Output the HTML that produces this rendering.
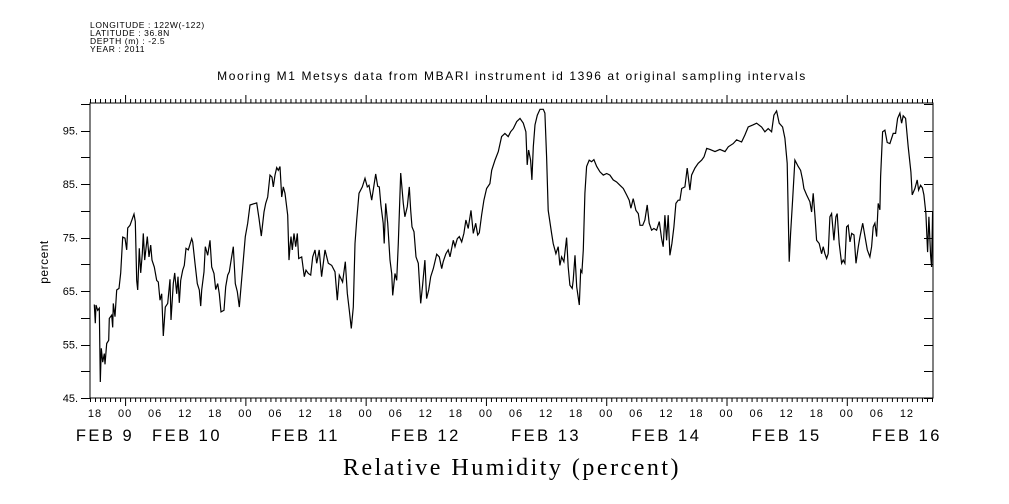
<!DOCTYPE html>
<html><head><meta charset="utf-8"><style>
html,body{margin:0;padding:0;background:#fff;}
svg{display:block;font-family:"Liberation Sans",sans-serif;}
</style></head><body>
<svg id="chart" width="1009" height="504" viewBox="0 0 1009 504" xmlns="http://www.w3.org/2000/svg">
<g font-size="8.5" letter-spacing="0.6" fill="#000">
<text x="90" y="28">LONGITUDE : 122W(-122)</text>
<text x="90" y="36">LATITUDE : 36.8N</text>
<text x="90" y="44">DEPTH (m) : -2.5</text>
<text x="90" y="52">YEAR : 2011</text>
</g>
<text x="512" y="80" text-anchor="middle" font-size="12" letter-spacing="1.6">Mooring M1 Metsys data from MBARI instrument id 1396 at original sampling intervals</text>
<text x="0" y="0" transform="translate(48,262) rotate(-90)" text-anchor="middle" font-size="12" letter-spacing="0.5">percent</text>
<text x="512" y="475" text-anchor="middle" font-size="24" letter-spacing="2.5" font-family="'Liberation Serif',serif">Relative Humidity (percent)</text>
<g id="axes"></g>
<g id="series"></g>
</svg>
<script>
const times=[0.86,1.06,1.2,1.54,1.86,2.05,2.25,2.53,2.85,2.99,3.33,3.73,3.85,4.33,4.53,4.65,4.99,5.33,5.79,6.12,6.52,6.98,7.32,7.52,7.98,8.78,9.04,9.32,9.52,9.84,10.11,10.43,10.63,10.91,11.43,11.77,12.11,12.37,12.83,13.31,13.63,13.97,14.30,14.62,15.02,15.50,15.96,16.16,16.62,16.90,17.30,17.56,17.82,18.09,18.49,18.81,19.15,19.61,20.29,20.49,20.95,21.41,21.81,22.08,22.28,22.74,23.00,23.48,23.94,24.28,24.74,25.08,25.48,25.80,26.13,26.73,27.07,27.47,27.79,28.07,28.59,28.99,29.39,29.79,30.18,30.58,30.98,31.46,31.92,33.26,33.72,34.17,34.71,35.05,35.45,35.91,36.31,36.57,36.91,37.25,37.57,37.91,38.24,38.56,38.90,39.44,39.70,39.90,40.10,40.36,40.70,41.04,41.36,41.64,42.23,42.75,43.09,43.55,44.03,44.43,44.89,45.23,45.74,46.22,46.88,47.54,48.22,48.88,49.34,49.74,50.41,50.93,51.33,51.73,52.13,52.53,52.87,53.21,53.67,54.33,54.86,55.32,55.66,56.20,57.00,57.40,57.72,58.05,58.51,58.71,58.99,59.39,59.85,60.19,60.39,60.85,61.19,61.51,61.99,62.51,62.84,63.30,63.70,63.98,64.24,64.64,65.04,65.50,65.98,66.37,66.83,67.17,67.57,67.97,68.49,69.17,69.69,70.17,70.48,71.02,71.48,71.82,72.16,72.48,72.82,73.28,73.68,74.16,74.61,75.01,75.47,76.01,76.47,76.95,77.35,77.67,78.14,78.60,79.14,79.80,80.14,80.80,81.46,82.13,82.79,83.45,83.93,84.45,85.13,85.79,86.45,86.98,87.24,87.52,87.92,88.18,88.44,88.78,89.24,89.78,90.44,90.77,91.11,91.43,92.11,92.43,92.96,93.42,93.76,94.10,94.56,95.10,95.42,95.76,96.22,96.42,96.76,97.10,97.62,97.90,98.15,98.42,98.75,99.09,99.61,100.09,100.55,101.09,101.75,102.41,103.09,103.74,104.40,105.08,105.74,106.40,107.07,107.59,107.93,108.39,108.93,109.39,109.73,110.27,110.72,111.18,111.58,112.06,112.52,113.06,113.58,114.05,114.37,114.71,115.05,115.37,115.71,116.11,116.51,116.91,117.37,117.71,118.05,118.70,119.16,119.70,120.04,120.70,121.36,122.04,122.50,123.04,123.70,124.70,125.69,126.69,127.35,128.34,129.02,130.02,130.67,131.33,132.33,133.01,134.01,134.66,135.32,136.00,136.46,137.00,137.52,138.19,138.65,139.11,139.51,139.79,140.19,140.65,141.30,141.78,142.18,142.44,142.98,143.64,143.98,144.30,144.64,144.98,145.49,145.97,146.29,146.63,146.97,147.29,147.63,147.97,148.43,148.83,149.09,149.49,149.97,150.29,150.63,150.97,151.29,151.63,151.97,152.43,152.83,153.29,153.63,154.17,154.63,155.09,155.61,155.95,156.27,156.61,156.95,157.27,157.61,157.75,158.15,158.61,159.07,159.60,160.26,160.74,161.14,161.60,161.94,162.26,162.74,163.26,163.79,164.05,164.59,165.05,165.33,165.73,166.09,166.39,166.79,167.13,167.38,167.72,167.92,168.12];
const values=[62.5,59.0,62.4,61.4,61.8,48.0,54.3,51.7,53.3,51.3,55.2,55.8,59.9,60.5,58.2,62.7,60.2,65.2,65.5,68.4,75.1,74.9,72.7,76.8,77.3,79.4,78.0,67.0,65.2,73.0,68.4,72.0,75.8,70.8,75.2,71.4,73.6,70.8,69.5,67.0,66.7,63.3,64.5,56.6,62.0,62.7,67.2,59.6,66.4,68.4,64.5,67.7,62.8,67.0,68.9,69.8,73.0,72.7,74.8,74.2,70.2,66.4,65.2,62.2,65.2,68.6,73.3,71.7,74.5,69.5,68.3,65.3,66.4,64.5,61.1,61.4,65.8,68.0,68.6,70.3,73.3,66.4,64.9,62.0,66.4,70.8,75.2,77.7,81.1,81.5,78.6,75.3,79.8,81.4,82.6,86.7,86.3,84.5,86.7,88.1,87.6,88.3,82.6,84.5,83.3,79.2,70.8,73.3,75.2,72.7,75.8,73.3,75.8,71.1,71.4,67.7,68.9,68.3,68.0,71.4,72.7,70.2,72.7,67.7,72.7,70.2,69.8,68.6,63.3,68.0,66.7,70.5,64.6,61.4,58.0,62.0,73.9,78.3,83.3,84.5,86.1,84.5,84.8,82.0,86.9,84.6,84.5,81.1,77.7,73.9,81.4,77.7,70.8,68.3,64.2,68.3,67.0,73.9,87.1,81.4,78.9,80.8,84.5,80.1,77.0,76.1,71.4,70.2,62.7,66.1,70.8,63.6,65.2,67.7,69.2,71.9,71.4,69.2,70.5,72.0,72.7,71.4,73.0,74.5,73.3,74.8,75.2,74.2,75.8,78.3,76.7,80.1,75.8,77.7,75.5,75.9,79.2,82.0,84.2,85.1,87.6,89.5,91.1,93.9,94.5,93.9,94.8,95.4,96.7,97.3,96.4,94.8,88.6,91.4,89.5,85.8,92.0,96.1,97.9,99.0,99.0,98.3,90.1,80.1,75.8,73.9,72.0,73.3,69.8,71.4,70.5,75.0,69.5,66.1,65.5,67.0,71.7,65.8,62.4,68.9,68.5,72.7,83.3,88.3,89.5,89.2,89.6,88.3,87.3,86.7,87.0,86.7,85.8,85.4,84.8,84.2,83.0,82.0,80.5,82.3,80.1,79.5,77.3,77.3,78.3,81.1,77.7,76.4,76.7,76.4,78.0,74.8,73.3,79.2,74.5,79.2,71.7,73.9,77.0,81.4,82.0,82.0,84.2,84.5,88.0,83.9,86.7,88.0,88.9,89.5,90.1,91.7,91.5,91.1,91.5,91.1,92.0,92.6,93.3,92.9,94.2,95.7,96.1,96.4,95.7,94.8,95.4,94.8,97.9,98.7,96.4,95.7,93.6,88.9,70.5,75.8,82.0,89.5,88.3,87.6,85.8,84.2,83.0,81.7,79.8,83.3,79.2,74.5,73.9,72.0,73.3,72.0,71.1,72.0,78.9,79.5,74.5,78.9,79.5,73.9,70.2,70.8,70.2,77.0,77.3,74.2,75.8,75.5,70.2,73.3,75.2,77.7,75.2,72.7,71.4,73.3,77.0,77.7,75.2,81.4,80.2,86.4,94.8,95.1,92.8,92.6,94.5,94.5,97.3,98.3,96.4,97.8,97.3,92.0,87.3,83.0,84.2,85.8,83.9,84.8,84.3,83.0,79.5,72.3,78.9,71.7,69.5,79.8];
const yTickValues=[45,55,65,75,85,95];
const yTickLabels=["45.","55.","65.","75.","85.","95."];
const dayLabels=["FEB  9","FEB 10","FEB 11","FEB 12","FEB 13","FEB 14","FEB 15","FEB 16"];
const hourLabels=["18","00","06","12"];

const NS="http://www.w3.org/2000/svg";
const X0=90,X1=933,Y0=398,Y1=104;
const T_MAX=168.2, V_MIN=45, V_MAX=100;
function xs(t){return X0+t*(X1-X0)/T_MAX;}
function ys(v){return Y0-(v-V_MIN)*(Y0-Y1)/(V_MAX-V_MIN);}
function mk(tag,attrs,parent){const e=document.createElementNS(NS,tag);for(const k in attrs)e.setAttribute(k,attrs[k]);parent.appendChild(e);return e;}
const axes=document.getElementById('axes');
const series=document.getElementById('series');

const frame=mk('rect',{x:X0,y:103,width:X1-X0,height:Y0-103,fill:'none',stroke:'#000','stroke-width':1},axes);



let tp='';
for(let h=0;h<=168;h++){
  const x=xs(h)+0.5;
  const major=((h+17)%24===0);
  const len=major?8:4;
  tp+=`M${x},${Y0}v${len}M${x},103v${-len}`;
}
const xt=mk('path',{d:tp,stroke:'#000','stroke-width':1,fill:'none'},axes);


for(let h=1;h<=T_MAX;h+=6){
  const hod=(h+17)%24;
  const t=mk('text',{x:xs(h),y:417,'text-anchor':'middle','font-size':11,'letter-spacing':1},axes);
  t.textContent=hourLabels[[18,0,6,12].indexOf(hod)];
  
  
}
dayLabels.forEach((d,i)=>{
  let h=7+24*(i-1)+12;
  let x=xs(h);
  if(i===0)x=105;
  if(i===1)x=187;
  const t=mk('text',{x:x,y:441,'text-anchor':'middle','font-size':16.5,'letter-spacing':2.5,'xml:space':'preserve'},axes);
  t.textContent=d;
  
  
});
let yp='';
for(let v=45;v<=100;v+=5){const y=Math.round(ys(v))+0.5;yp+=`M${X0},${y}h-9M${X1},${y}h-9`;}
const yt=mk('path',{d:yp,stroke:'#000','stroke-width':1,fill:'none'},axes);


yTickValues.forEach((v,i)=>{
  const t=mk('text',{x:78,y:ys(v)+4,'text-anchor':'end','font-size':11},axes);
  t.textContent=yTickLabels[i];
  
  
});
let d='';
times.forEach((t,i)=>{d+=(i?'L':'M')+xs(t).toFixed(1)+','+ys(values[i]).toFixed(1);});
const line=mk('path',{d:d,fill:'none',stroke:'#000','stroke-width':1.2},series);


</script>
</body></html>
